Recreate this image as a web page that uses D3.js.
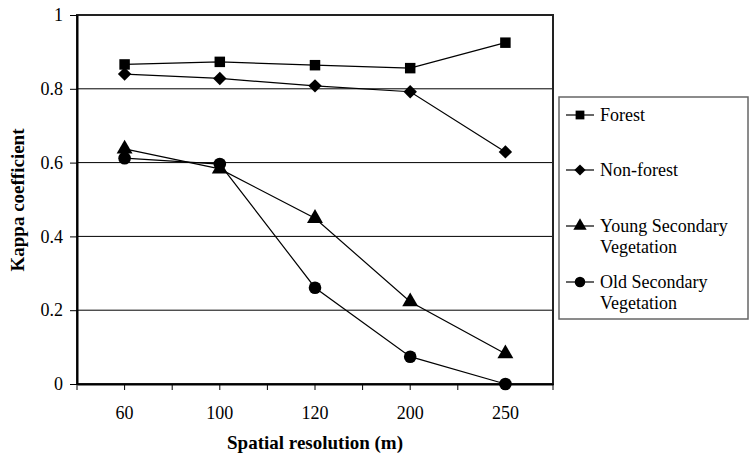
<!DOCTYPE html>
<html>
<head>
<meta charset="UTF-8" />
<title>Kappa coefficient vs spatial resolution</title>
<script src="https://d3js.org/d3.v7.min.js"></script>
<style>
    body { margin: 0; background: #fff; }
</style>
</head>
<body>
<svg id="kappa" width="749" height="464"></svg>
<script>
    const resolutions = ["60", "100", "120", "200", "250"];
    const forest = [0.866, 0.873, 0.864, 0.856, 0.925];
    const nonForest = [0.840, 0.828, 0.808, 0.792, 0.629];
    const youngVeg = [0.637, 0.583, 0.449, 0.223, 0.082];
    const oldVeg = [0.612, 0.596, 0.261, 0.074, 0.0];
    const yTicks = [0, 0.2, 0.4, 0.6, 0.8, 1];

    // no generic fallback in the list
    const face = '"Liberation Serif", "Times New Roman", Tinos';

    const series = [
        { name: ["Forest"], values: forest, symbol: d3.symbolSquare, size: 110, rot: 0 },
        { name: ["Non-forest"], values: nonForest, symbol: d3.symbolSquare, size: 90, rot: 45 },
        { name: ["Young Secondary", "Vegetation"], values: youngVeg, symbol: d3.symbolTriangle, size: 110, rot: 0 },
        { name: ["Old Secondary", "Vegetation"], values: oldVeg, symbol: d3.symbolCircle, size: 125, rot: 0 }
    ];

    const plotL = 77, plotR = 553, plotT = 15, plotB = 384;
    const svg = d3.select("#kappa");

    const x = d3.scaleBand().domain(resolutions).range([plotL, plotR]);
    const y = d3.scaleLinear().domain([0, 1]).range([plotB, plotT]);

    // gridlines
    svg.append("g")
        .selectAll("line")
        .data(yTicks.filter(d => d > 0 && d < 1))
        .join("line")
        .attr("x1", plotL).attr("x2", plotR)
        .attr("y1", d => y(d)).attr("y2", d => y(d))
        .attr("stroke", "#000").attr("stroke-width", 1);

    // frame
    svg.append("rect")
        .attr("x", plotL).attr("y", plotT)
        .attr("width", plotR - plotL).attr("height", plotB - plotT)
        .attr("fill", "none").attr("stroke", "#222").attr("stroke-width", 2);

    // y axis
    const yAxis = svg.append("g")
        .attr("transform", `translate(${plotL},0)`)
        .call(d3.axisLeft(y).tickValues(yTicks).tickSize(7).tickSizeOuter(0)
            .tickFormat(d => d === 0 || d === 1 ? d3.format("d")(d) : d3.format(".1f")(d)));
    yAxis.attr("font-family", null).attr("font-size", null);
    yAxis.select(".domain").attr("stroke-width", 2);
    yAxis.selectAll("text")
        .style("font-family", face).attr("font-size", 18)
        .attr("fill", "#000").attr("dx", -4);

    // x axis: ticks at band edges and centres
    const xAxis = svg.append("g")
        .attr("transform", `translate(0,${plotB})`)
        .call(d3.axisBottom(x).tickSize(6).tickSizeOuter(0));
    xAxis.attr("font-family", null).attr("font-size", null);
    xAxis.select(".domain").attr("stroke-width", 2);
    xAxis.selectAll("text")
        .style("font-family", face).attr("font-size", 18)
        .attr("fill", "#000").attr("dy", "1.45em");
    const edges = d3.range(resolutions.length + 1).map(i => plotL + i * x.step());
    svg.append("g")
        .selectAll("line")
        .data(edges)
        .join("line")
        .attr("x1", d => d).attr("x2", d => d)
        .attr("y1", plotB).attr("y2", plotB + 6)
        .attr("stroke", "#000");

    // axis titles
    svg.append("text")
        .attr("x", 315).attr("y", 449)
        .attr("text-anchor", "middle")
        .style("font-family", face).attr("font-size", 19).attr("font-weight", "bold")
        .text("Spatial resolution (m)");
    svg.append("text")
        .attr("transform", `translate(24,200) rotate(-90)`)
        .attr("text-anchor", "middle")
        .style("font-family", face).attr("font-size", 19).attr("font-weight", "bold")
        .text("Kappa coefficient");

    // lines and markers
    const line = d3.line()
        .x((d, i) => x(resolutions[i]) + x.bandwidth() / 2)
        .y(d => y(d));

    series.forEach(s => {
        svg.append("path")
            .attr("d", line(s.values))
            .attr("fill", "none").attr("stroke", "#000").attr("stroke-width", 1.2);
        svg.append("g")
            .selectAll("path")
            .data(s.values)
            .join("path")
            .attr("transform", (d, i) => `translate(${x(resolutions[i]) + x.bandwidth() / 2},${y(d)}) rotate(${s.rot})`)
            .attr("d", d3.symbol().type(s.symbol).size(s.size))
            .attr("fill", "#000");
    });

    // legend
    const legend = svg.append("g");
    legend.append("rect")
        .attr("x", 559).attr("y", 97)
        .attr("width", 189).attr("height", 222)
        .attr("fill", "#fff").attr("stroke", "#666").attr("stroke-width", 1.5);

    const legendY = [115, 170, 226, 282];
    series.forEach((s, i) => {
        const ly = legendY[i];
        legend.append("line")
            .attr("x1", 566).attr("x2", 594)
            .attr("y1", ly).attr("y2", ly)
            .attr("stroke", "#000").attr("stroke-width", 1.2);
        legend.append("path")
            .attr("transform", `translate(580,${ly}) rotate(${s.rot})`)
            .attr("d", d3.symbol().type(s.symbol).size(s.size * 0.7))
            .attr("fill", "#000");
        s.name.forEach((t, j) => {
            legend.append("text")
                .attr("x", 600).attr("y", ly + 6 + j * 21)
                .style("font-family", face).attr("font-size", 18)
                .attr("fill", "#000")
                .text(t);
        });
    });
</script>
</body>
</html>
